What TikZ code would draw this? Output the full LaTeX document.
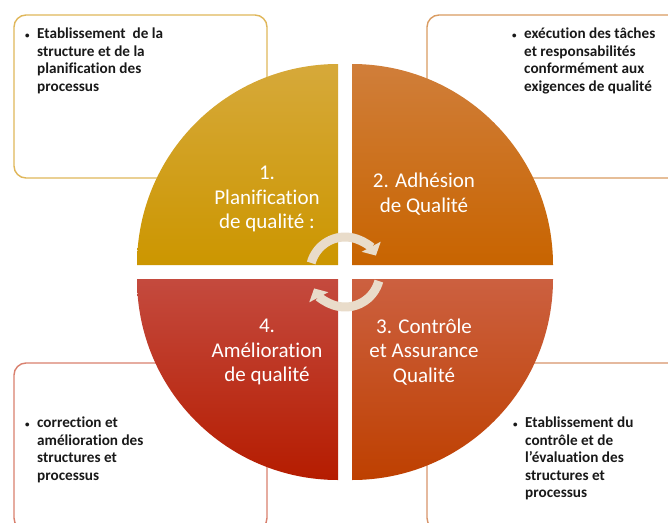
\documentclass[tikz,border=0pt]{standalone}
\usepackage{fontspec}
\setmainfont{Carlito}[Ligatures=NoCommon]
\usepackage{tikz}
\usetikzlibrary{arrows.meta, positioning}
\definecolor{goldTop}{HTML}{D6A93A}
\definecolor{goldBottom}{HTML}{CC9600}
\definecolor{orangeTop}{HTML}{D07E3A}
\definecolor{orangeBottom}{HTML}{C86400}
\definecolor{rustTop}{HTML}{CC6040}
\definecolor{rustBottom}{HTML}{BE4000}
\definecolor{redTop}{HTML}{C44A3E}
\definecolor{redBottom}{HTML}{B51C00}
\definecolor{goldBorder}{HTML}{E0B75A}
\definecolor{orangeBorder}{HTML}{DA9C62}
\definecolor{rustBorder}{HTML}{D8946A}
\definecolor{redBorder}{HTML}{D9806E}
\definecolor{arrowBeige}{HTML}{E9DCCA}
\definecolor{mainBlack}{gray}{0.1}
\newcommand{\bulletlines}[1]{\makebox[12pt][l]{\small\textbullet}\begin{tabular}[t]{@{}l@{}}#1\end{tabular}}

\begin{document}
\begin{tikzpicture}[x=1pt, y=-1pt,
    infobox/.style={line width=1.4pt, fill=white, rounded corners=12pt},
    infotext/.style={anchor=north west, inner sep=0pt,
        text=mainBlack, font=\fontsize{15.2}{17.6}\selectfont\bfseries},
    quadtext/.style={text=white, align=center, inner sep=0pt,
        font=\fontsize{21}{24.5}\selectfont},
    cyclearrow/.style={arrowBeige, line width=9pt, -{Triangle[length=10pt, width=21pt]}}]
    \clip (0,0) rectangle (668,522);
    \fill[white] (0,0) rectangle (668,522);
    % boxes behind the circle
    \draw[infobox, draw=goldBorder] (14,15) rectangle (267,178);
    \draw[infobox, draw=orangeBorder] (427,15) rectangle (680,178);
    \draw[infobox, draw=redBorder] (14,363) rectangle (267,530);
    \draw[infobox, draw=rustBorder] (427,363) rectangle (680,530);
    % quadrants
    \shade[top color=goldTop, bottom color=goldBottom]
        (338,265) -- (137,265) arc[start angle=180, end angle=270, radius=201] -- cycle;
    \shade[top color=orangeTop, bottom color=orangeBottom]
        (352,265) -- (352,64) arc[start angle=270, end angle=360, radius=201] -- cycle;
    \shade[top color=rustTop, bottom color=rustBottom]
        (352,279) -- (553,279) arc[start angle=0, end angle=90, radius=201] -- cycle;
    \shade[top color=redTop, bottom color=redBottom]
        (338,279) -- (338,480) arc[start angle=90, end angle=180, radius=201] -- cycle;
    % cycle arrows
    \draw[cyclearrow] (345,272) ++(195:35) arc[start angle=195, end angle=332, radius=35];
    \draw[cyclearrow] (345,272) ++(15:35) arc[start angle=15, end angle=152, radius=35];
    % quadrant labels
    \node[quadtext] (plan) at (267,199) {1.\\Planification\\de qualité :};
    \node[quadtext] (adh) at (424,194) {2. Adhésion\\de Qualité};
    \node[quadtext] (ctrl) at (424,352) {3. Contrôle\\et Assurance\\Qualité};
    \node[quadtext] (amel) at (267,352) {4.\\Amélioration\\de qualité};
    % box texts
    \node[infotext] (planTxt) at (25,26)
        {\bulletlines{Etablissement\ \ de la\\structure et de la\\planification des\\processus}};
    \node[infotext] (adhTxt) at (512,26)
        {\bulletlines{exécution des tâches\\et responsabilités\\conformément aux\\exigences de qualité}};
    \node[infotext] (amelTxt) at (25,415)
        {\bulletlines{correction et\\amélioration des\\structures et\\processus}};
    \node[infotext] (ctrlTxt) at (513,415)
        {\bulletlines{Etablissement du\\contrôle et de\\l'évaluation des\\structures et\\processus}};
\end{tikzpicture}
\end{document}
